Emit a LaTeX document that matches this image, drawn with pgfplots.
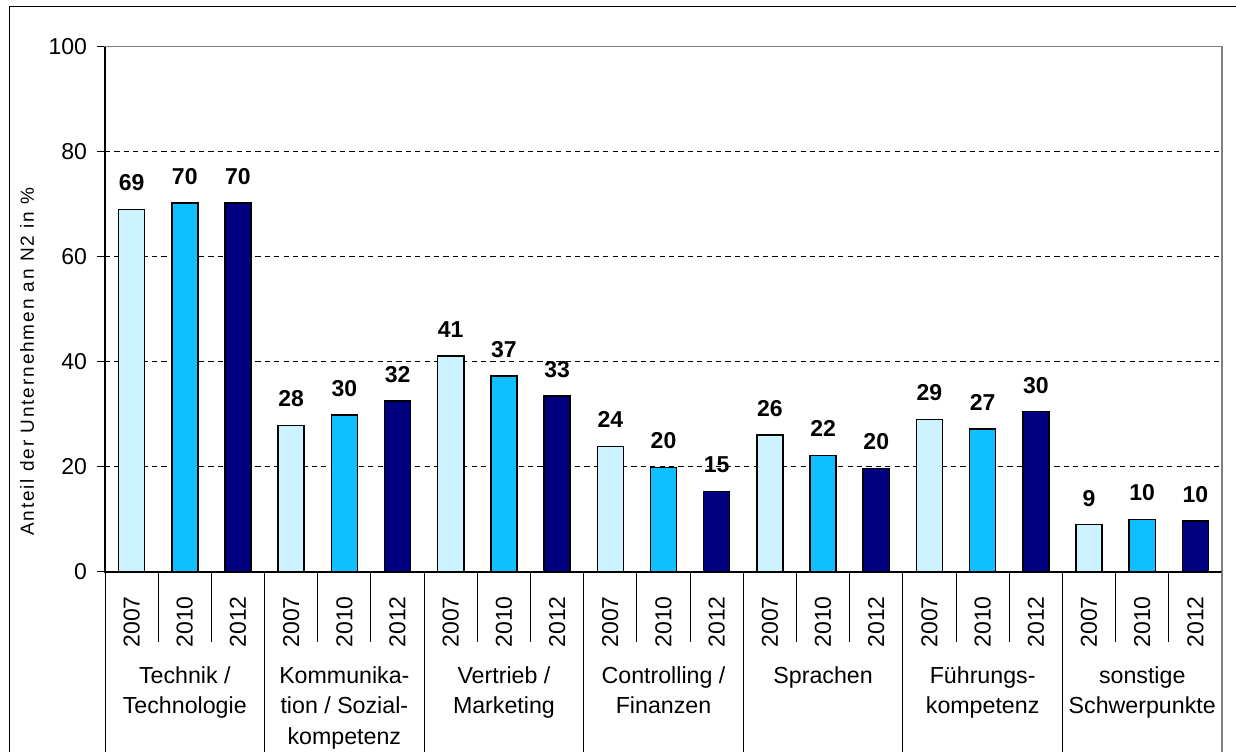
\documentclass[border=0pt]{standalone}
\usepackage{fontspec}
\setmainfont{Liberation Sans}
\newfontfamily\ylabfont[LetterSpace=10]{Liberation Sans}
\usepackage{pgfplots}
\pgfplotsset{compat=1.18}
\usepackage{pgfplotstable}
\definecolor{cA}{RGB}{204,242,255}
\definecolor{cB}{RGB}{16,191,255}
\definecolor{cC}{RGB}{0,0,128}
\definecolor{frame}{RGB}{128,128,128}

\pgfplotstableread{
x y label
0 69.0 69
3 27.9 28
6 41.1 41
9 23.9 24
12 26.1 26
15 29.0 29
18 9.0 9
}\dA
\pgfplotstableread{
x y label
1 70.2 70
4 29.9 30
7 37.3 37
10 19.9 20
13 22.2 22
16 27.2 27
19 10.0 10
}\dB
\pgfplotstableread{
x y label
2 70.2 70
5 32.5 32
8 33.5 33
11 15.3 15
14 19.7 20
17 30.5 30
20 9.7 10
}\dC

\begin{document}
\begin{tikzpicture}
\begin{axis}[
  at={(52.5pt,89.55pt)}, anchor=south west,
  scale only axis, width=558.5pt, height=262.6pt,
  xmin=-0.5, xmax=20.5, ymin=0, ymax=100,
  clip=false,
  ybar, bar width=0.49, bar shift=0pt,
  axis line style={draw=frame, line width=0.6pt},
  ytick={0,20,...,100}, ytick pos=left, tick align=outside,
  major tick length=4pt,
  ytick style={black, line width=0.5pt},
  yticklabel style={font=\fontsize{11.5}{13}\selectfont, xshift=-1.5pt},
  /pgf/number format/assume math mode=true,
  extra y ticks={20,40,60,80}, extra y tick labels={},
  extra y tick style={grid=major},
  grid style={black, dash pattern=on 2.6pt off 2.1pt, line width=0.5pt},
  xtick={0,...,20},
  xticklabels={2007,2010,2012,2007,2010,2012,2007,2010,2012,2007,2010,2012,2007,2010,2012,2007,2010,2012,2007,2010,2012},
  xtick style={draw=none},
  xticklabel style={yshift=-8pt, rotate=90, anchor=east, inner sep=0pt, font=\fontsize{11.5}{13}\selectfont},
  ylabel={Anteil der Unternehmen an N2 in \%},
  ylabel style={at={(rel axis cs:-0.0698,0.40)}, anchor=center, font=\ylabfont\fontsize{9.5}{11}\selectfont},
  nodes near coords,
  point meta=explicit symbolic,
  nodes near coords style={anchor=base, yshift=9.3pt, inner sep=0pt, font=\fontsize{11.5}{13}\selectfont\bfseries, text=black},
]
\addplot[fill=cA, draw=black, line width=0.75pt] table[x=x, y=y, meta=label] {\dA};
\addplot[fill=cB, draw=black, line width=0.75pt] table[x=x, y=y, meta=label] {\dB};
\addplot[fill=cC, draw=black, line width=0.75pt] table[x=x, y=y, meta=label] {\dC};
\draw[black, line width=0.6pt] (rel axis cs:0,1) -- (rel axis cs:0,0) -- (rel axis cs:1,0);
\pgfplotsinvokeforeach{0.5,1.5,3.5,4.5,6.5,7.5,9.5,10.5,12.5,13.5,15.5,16.5,18.5,19.5}{
  \draw[black, line width=0.5pt] (axis cs:#1,0) -- ++(0pt,-35pt);
}
\pgfplotsinvokeforeach{-0.5,2.5,5.5,8.5,11.5,14.5,17.5}{
  \draw[black, line width=0.5pt] (axis cs:#1,0) -- ++(0pt,-95pt);
}
\draw[frame, line width=0.6pt] (axis cs:20.5,0) -- ++(0pt,-95pt);
\tikzset{glab/.style={anchor=north, align=center, inner sep=0pt, yshift=-47pt, font=\fontsize{11.6}{15.25}\selectfont}}
\node[glab] at (axis cs:1,0) {Technik /\\Technologie};
\node[glab] at (axis cs:4,0) {Kommunika-\\tion / Sozial-\\kompetenz};
\node[glab] at (axis cs:7,0) {Vertrieb /\\Marketing};
\node[glab] at (axis cs:10,0) {Controlling /\\Finanzen};
\node[glab] at (axis cs:13,0) {Sprachen};
\node[glab] at (axis cs:16,0) {Führungs-\\kompetenz};
\node[glab] at (axis cs:19,0) {sonstige\\Schwerpunkte};
\end{axis}
\draw[black, line width=0.6pt] (4.65pt,-5pt) -- (4.65pt,372.15pt) -- (625pt,372.15pt);
\pgfresetboundingbox
\path[use as bounding box] (0pt,0pt) rectangle (618pt,375.5pt);
\end{tikzpicture}
\end{document}
